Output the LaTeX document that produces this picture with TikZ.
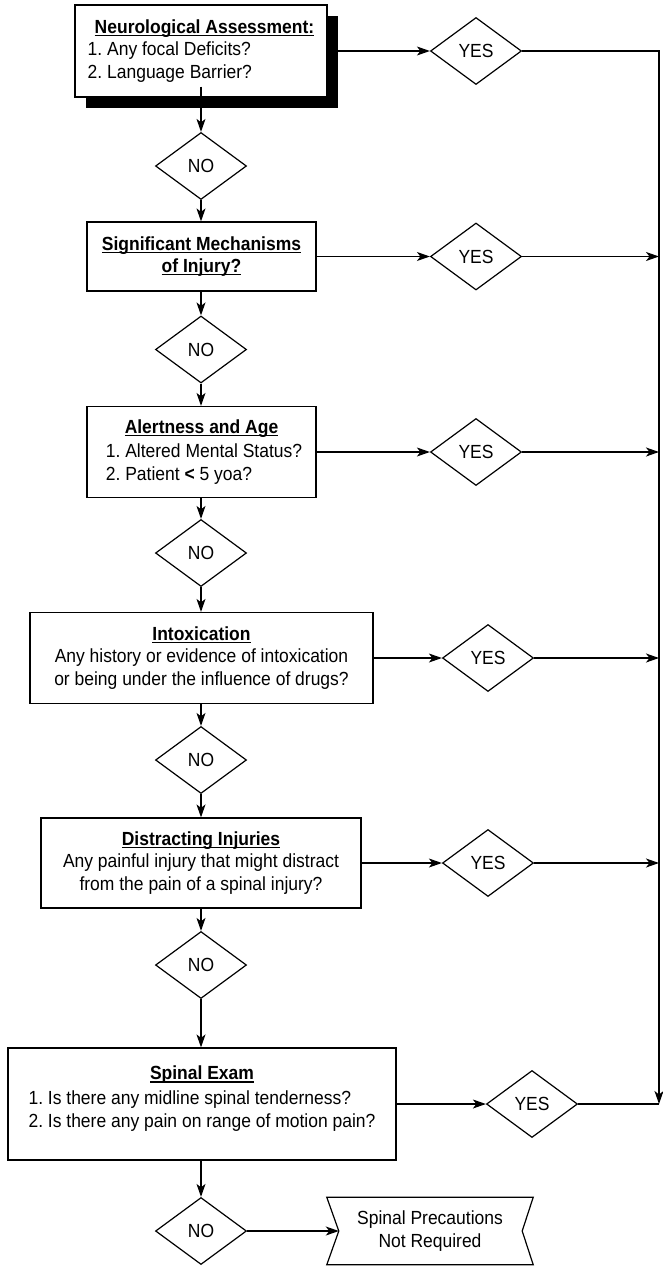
\documentclass[tikz,border=0pt]{standalone}
\usepackage{fontspec}
\setmainfont{Liberation Sans}[FakeStretch=0.92]
\usetikzlibrary{shapes.geometric,arrows.meta,shadows}
\newcommand{\hdr}[1]{\setbox0\hbox{\textbf{#1}}\rlap{\rule[-2.6pt]{\wd0}{1.2pt}}\box0}
\frenchspacing
\begin{document}
\begin{tikzpicture}[x=1pt,y=-1pt,
  every node/.style={font=\fontsize{19}{22.5}\selectfont, inner sep=0pt},
  line/.style={line width=1.2pt},
  arr/.style={line width=1.2pt,-{Stealth[length=13pt,width=9pt,inset=3.5pt]}},
  box/.style={draw, line width=1.2pt, rectangle, fill=white},
  dia/.style={draw, line width=1.2pt, diamond, minimum width=91pt, minimum height=67pt, fill=white}]
\useasboundingbox (0,0) rectangle (662,1266);
% boxes
\node[box, minimum width=252pt, minimum height=92pt,
  drop shadow={shadow xshift=11pt, shadow yshift=-11pt, fill=black, opacity=1}] (A) at (201,51) {};
\node[align=left] (At) at (201,51) {\hspace*{7pt}\hdr{Neurological Assessment:}\\1. Any focal Deficits?\\2. Language Barrier?};
\node[box, minimum width=229pt, minimum height=69pt, align=center] (B) at (201.5,256.5) {\hdr{Significant Mechanisms}\\\hdr{of Injury?}};
\node[box, minimum width=229pt, minimum height=91pt] (C) at (201.5,452) {};
\node (Ch) at (201.5,429) {\hdr{Alertness and Age}};
\node[align=left] (Cl) at (204,464) {1. Altered Mental Status?\\2. Patient \textbf{<} 5 yoa?};
\node[box, minimum width=343pt, minimum height=91pt, align=center] (D) at (201.5,658) {\hdr{Intoxication}\\Any history or evidence of intoxication\\or being under the influence of drugs?};
\node[box, minimum width=320pt, minimum height=90pt, align=center] (E) at (201,863) {\hdr{Distracting Injuries}\\Any painful injury that might distract\\from the pain of a spinal injury?};
\node[box, minimum width=388pt, minimum height=112pt] (F) at (202,1104) {};
\node (Fh) at (202,1075) {\hdr{Spinal Exam}};
\node[align=left] (Fl) at (202,1111) {1. Is there any midline spinal tenderness?\\2. Is there any pain on range of motion pain?};
% diamonds
\node[dia] (Y1) at (476,51) {YES};
\node[dia] (Y2) at (476,256.5) {YES};
\node[dia] (Y3) at (476,452) {YES};
\node[dia] (Y4) at (488,658) {YES};
\node[dia] (Y5) at (488,863) {YES};
\node[dia] (Y6) at (532,1104) {YES};
\node[dia] (N1) at (201,166) {NO};
\node[dia] (N2) at (201,349.5) {NO};
\node[dia] (N3) at (201,553) {NO};
\node[dia] (N4) at (201,760) {NO};
\node[dia] (N5) at (201,965) {NO};
\node[dia] (N6) at (201,1231) {NO};
% terminal banner
\node[minimum width=206pt, minimum height=67pt, align=center] (P) at (430,1231) {Spinal Precautions\\Not Required};
\draw[line] (P.north west) -- (P.north east) -- ([xshift=-11pt]P.east) -- (P.south east) -- (P.south west) -- ([xshift=12pt]P.west) -- cycle;
\coordinate (Pin) at ([xshift=12pt]P.west);
% right rail
\coordinate (R1) at (659,51);
\coordinate (R2) at (659,256.5);
\coordinate (R3) at (659,452);
\coordinate (R4) at (659,658);
\coordinate (R5) at (659,863);
\coordinate (R6) at (659,1104);
% connectors
\draw[arr] (A.east) -- (Y1.west);
\draw[arr] (B.east) -- (Y2.west);
\draw[arr] (C.east) -- (Y3.west);
\draw[arr] (D.east) -- (Y4.west);
\draw[arr] (E.east) -- (Y5.west);
\draw[arr] (F.east) -- (Y6.west);
\draw[arr] (Y1.east) -- (R1) -- (R6);
\draw[arr] (Y2.east) -- (R2);
\draw[arr] (Y3.east) -- (R3);
\draw[arr] (Y4.east) -- (R4);
\draw[arr] (Y5.east) -- (R5);
\draw[line] (Y6.east) -- (R6);
\draw[arr] ([yshift=11pt]A.south) -- (N1.north);
\draw[arr] (N1.south) -- (N1.south |- B.north);
\draw[arr] (N2.north |- B.south) -- (N2.north);
\draw[arr] (N2.south) -- (N2.south |- C.north);
\draw[arr] (N3.north |- C.south) -- (N3.north);
\draw[arr] (N3.south) -- (N3.south |- D.north);
\draw[arr] (N4.north |- D.south) -- (N4.north);
\draw[arr] (N4.south) -- (N4.south |- E.north);
\draw[arr] (E.south) -- (N5.north);
\draw[arr] (N5.south) -- (N5.south |- F.north);
\draw[arr] (N6.north |- F.south) -- (N6.north);
\draw[arr] (N6.east) -- (Pin);
\end{tikzpicture}
\end{document}
